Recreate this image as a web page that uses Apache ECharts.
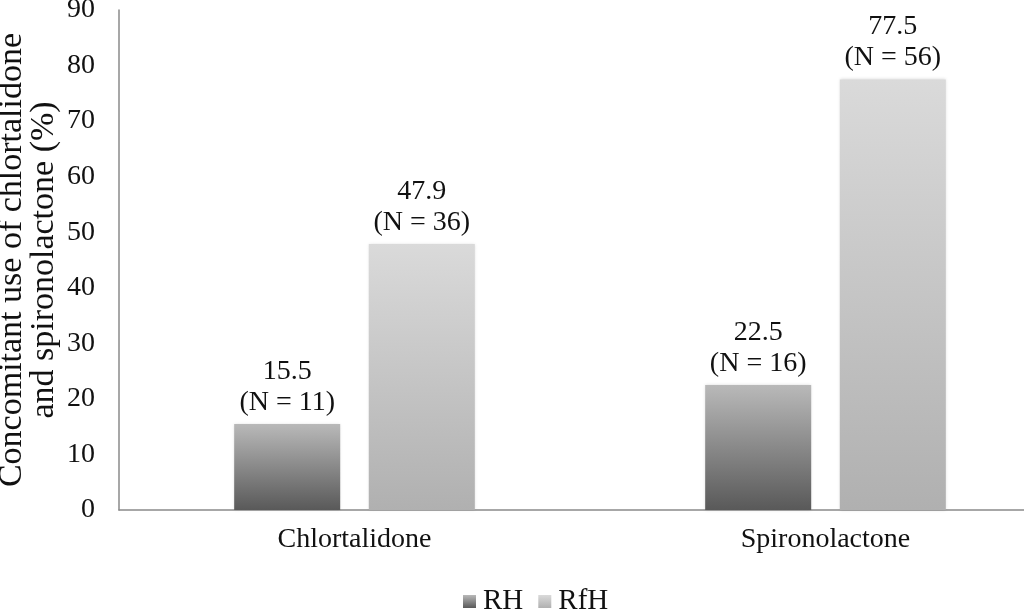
<!DOCTYPE html>
<html><head><meta charset="utf-8">
<script src="https://cdn.jsdelivr.net/npm/echarts@6/dist/echarts.min.js"></script>
<style>html,body{margin:0;padding:0;background:#fff}#c{width:1024px;height:610px}</style>
</head><body><div id="c"></div>
<script>
const categories = ['Chlortalidone', 'Spironolactone'];
const seriesNames = ['RH', 'RfH'];
const rhValues = [15.5, 22.5];
const rfhValues = [47.9, 77.5];
const rhN = [11, 16];
const rfhN = [36, 56];
const yTicks = [0, 10, 20, 30, 40, 50, 60, 70, 80, 90];

const FONT = '"Liberation Serif", "DejaVu Serif", serif';
function grad(top, bottom) {
  return new echarts.graphic.LinearGradient(0, 0, 0, 1, [
    { offset: 0, color: top }, { offset: 1, color: bottom }
  ]);
}
const rhColor = grad('#b9b9b9', '#595959');
const rfhColor = grad('#dadada', '#b0b0b0');

function labelFor(nArr) {
  return {
    show: true, position: 'top', distance: 6,
    fontFamily: FONT, fontSize: 28, color: '#111', lineHeight: 31, align: 'center',
    formatter: p => p.value + '\n(N = ' + nArr[p.dataIndex] + ')'
  };
}

const chart = echarts.init(document.getElementById('c'), null, { renderer: 'canvas' });
chart.setOption({
  animation: false,
  backgroundColor: '#fff',
  grid: { left: 119, right: -37, top: 10, bottom: 100, containLabel: false, outerBoundsMode: 'none' },
  legend: {
    top: 582, left: 458, itemWidth: 13, itemHeight: 13, itemGap: 15,
    icon: 'rect',
    textStyle: { fontFamily: FONT, fontSize: 29, color: '#111', padding: [0, 0, 0, 2] },
    data: seriesNames
  },
  xAxis: {
    type: 'category', data: categories,
    axisLine: { lineStyle: { color: '#8a8a8a', width: 1.5 } },
    axisTick: { show: false },
    axisLabel: { fontFamily: FONT, fontSize: 28, color: '#111', margin: 16 }
  },
  yAxis: {
    type: 'value', min: 0, max: 90, interval: 10,
    name: 'Concomitant use of chlortalidone\nand spironolactone (%)',
    nameLocation: 'middle', nameGap: 59, nameMoveOverlap: false,
    nameTextStyle: { fontFamily: FONT, fontSize: 34, color: '#111', lineHeight: 32 },
    axisLine: { show: true, lineStyle: { color: '#8a8a8a', width: 1.5 } },
    axisTick: { show: false },
    splitLine: { show: false },
    axisLabel: { fontFamily: FONT, fontSize: 28, color: '#111', margin: 24,
      formatter: v => yTicks.includes(v) ? String(v) : '' }
  },
  series: [
    { name: seriesNames[0], type: 'bar', data: rhValues, barWidth: 106, barGap: '27%',
      itemStyle: { color: rhColor, shadowBlur: 3, shadowColor: 'rgba(0,0,0,0.15)' },
      label: labelFor(rhN) },
    { name: seriesNames[1], type: 'bar', data: rfhValues, barWidth: 106,
      itemStyle: { color: rfhColor, shadowBlur: 3, shadowColor: 'rgba(0,0,0,0.15)' },
      label: labelFor(rfhN) }
  ]
});
</script></body></html>
